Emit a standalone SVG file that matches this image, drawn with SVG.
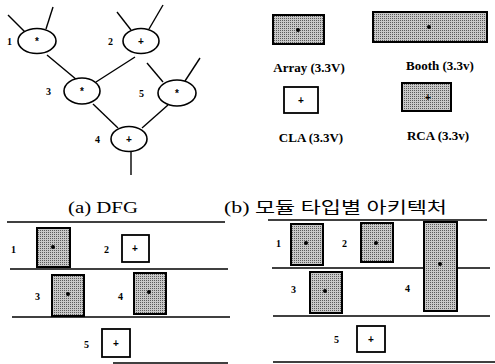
<svg xmlns="http://www.w3.org/2000/svg" width="495" height="364" viewBox="0 0 495 364">
<defs>
<pattern id="stip" width="2" height="2" patternUnits="userSpaceOnUse">
<rect width="2" height="2" fill="#c8c8c8"/>
<rect width="1" height="1" fill="#5a5a5a"/>
</pattern>
<style>
.e{fill:#fff;stroke:#000;stroke-width:1.6}
.c{stroke:#000;stroke-width:1.4;fill:none}
.g{fill:url(#stip);stroke:#000;stroke-width:2}
.w{fill:#fff;stroke:#000;stroke-width:1.8}
.n{font-family:"Liberation Serif",serif;font-weight:bold;font-size:10px;fill:#000}
.s{font-family:"Liberation Sans",sans-serif;font-weight:bold;font-size:10px;fill:#000;text-anchor:middle}
.l{font-family:"Liberation Serif",serif;font-weight:bold;font-size:13px;fill:#000;text-anchor:middle}
.t{font-family:"Liberation Serif","Noto Sans CJK KR",serif;font-size:16px;fill:#000}
.r{stroke:#000;stroke-width:1.3}
</style>
</defs>
<rect width="495" height="364" fill="#fff"/>

<g id="connectors">
<line class="c" x1="8" y1="15" x2="25" y2="32"/>
<line class="c" x1="53" y1="7" x2="46" y2="29"/>
<line class="c" x1="117" y1="12" x2="131" y2="30"/>
<line class="c" x1="163" y1="5" x2="149" y2="29"/>
<line class="c" x1="147" y1="63" x2="163" y2="82"/>
<line class="c" x1="200" y1="58" x2="185" y2="81"/>
<line class="c" x1="47" y1="55" x2="77" y2="80"/>
<line class="c" x1="135" y1="57" x2="96" y2="82"/>
<line class="c" x1="93" y1="104" x2="118" y2="128"/>
<line class="c" x1="168" y1="105" x2="142" y2="128"/>
<line class="c" x1="131" y1="152" x2="131" y2="175"/>
</g>

<g id="n1"><ellipse class="e" cx="37" cy="41" rx="19" ry="12.5"/><text class="s" x="37" y="45">*</text><text class="n" x="7" y="45">1</text></g>
<g id="n2"><ellipse class="e" cx="141" cy="41" rx="18" ry="12.5"/><text class="s" x="141" y="45">+</text><text class="n" x="108" y="45">2</text></g>
<g id="n3"><ellipse class="e" cx="82" cy="91" rx="18" ry="13"/><text class="s" x="82" y="95">*</text><text class="n" x="46" y="95">3</text></g>
<g id="n5"><ellipse class="e" cx="177" cy="93" rx="19" ry="13"/><text class="s" x="177" y="97">*</text><text class="n" x="139" y="97">5</text></g>
<g id="n4"><ellipse class="e" cx="129" cy="139" rx="18" ry="12.5"/><text class="s" x="129" y="143">+</text><text class="n" x="95" y="143">4</text></g>

<g id="legend-array"><rect class="g" x="273" y="15" width="51" height="29"/><circle cx="298" cy="30" r="2"/><text class="l" x="309" y="72">Array (3.3V)</text></g>
<g id="legend-booth"><rect class="g" x="373" y="12" width="114" height="30"/><circle cx="429" cy="27" r="2"/><text class="l" x="440" y="70">Booth (3.3v)</text></g>
<g id="legend-cla"><rect class="w" x="284" y="87" width="34" height="26"/><text class="s" x="301" y="104">+</text><text class="l" x="311" y="142">CLA (3.3V)</text></g>
<g id="legend-rca"><rect class="g" x="402" y="83" width="49" height="28"/><text class="s" x="428" y="101">+</text><text class="l" x="438" y="140">RCA (3.3v)</text></g>

<text class="t" x="68" y="213" textLength="70" lengthAdjust="spacingAndGlyphs">(a) DFG</text>
<text class="t" x="224" y="213" textLength="223" lengthAdjust="spacingAndGlyphs">(b) 모듈 타입별 아키텍처</text>

<g id="schedule-a">
<line class="r" x1="7" y1="222" x2="225" y2="222"/>
<line class="r" x1="10" y1="269" x2="228" y2="269"/>
<line class="r" x1="12" y1="317" x2="230" y2="317"/>
<line class="r" x1="113" y1="363" x2="228" y2="363"/>
<g id="a1"><rect class="g" x="37" y="228" width="33" height="39"/><circle cx="53" cy="247" r="2"/><text class="n" x="11" y="253">1</text></g>
<g id="a2"><rect class="w" x="122" y="235" width="27" height="27"/><text class="s" x="135" y="252">+</text><text class="n" x="104" y="253">2</text></g>
<g id="a3"><rect class="g" x="52" y="275" width="32" height="41"/><circle cx="68" cy="294" r="2"/><text class="n" x="35" y="300">3</text></g>
<g id="a4"><rect class="g" x="134" y="273" width="32" height="41"/><circle cx="149" cy="292" r="2"/><text class="n" x="118" y="300">4</text></g>
<g id="a5"><rect class="w" x="102" y="329" width="28" height="28"/><text class="s" x="116" y="347">+</text><text class="n" x="84" y="348">5</text></g>
</g>

<g id="schedule-b">
<line class="r" x1="268" y1="220" x2="487" y2="220"/>
<line class="r" x1="272" y1="268" x2="490" y2="268"/>
<line class="r" x1="273" y1="316" x2="490" y2="316"/>
<line class="r" x1="273" y1="362" x2="495" y2="362"/>
<g id="b1"><rect class="g" x="291" y="224" width="32" height="41"/><circle cx="306" cy="243" r="2"/><text class="n" x="276" y="247">1</text></g>
<g id="b2"><rect class="g" x="361" y="223" width="32" height="39"/><circle cx="376" cy="243" r="2"/><text class="n" x="342" y="247">2</text></g>
<g id="b4"><rect class="g" x="424" y="222" width="33" height="89"/><circle cx="440" cy="264" r="2"/><text class="n" x="405" y="292">4</text></g>
<g id="b3"><rect class="g" x="310" y="272" width="32" height="41"/><circle cx="325" cy="291" r="2"/><text class="n" x="291" y="293">3</text></g>
<g id="b5"><rect class="w" x="357" y="326" width="28" height="26"/><text class="s" x="371" y="343">+</text><text class="n" x="334" y="343">5</text></g>
</g>
</svg>
